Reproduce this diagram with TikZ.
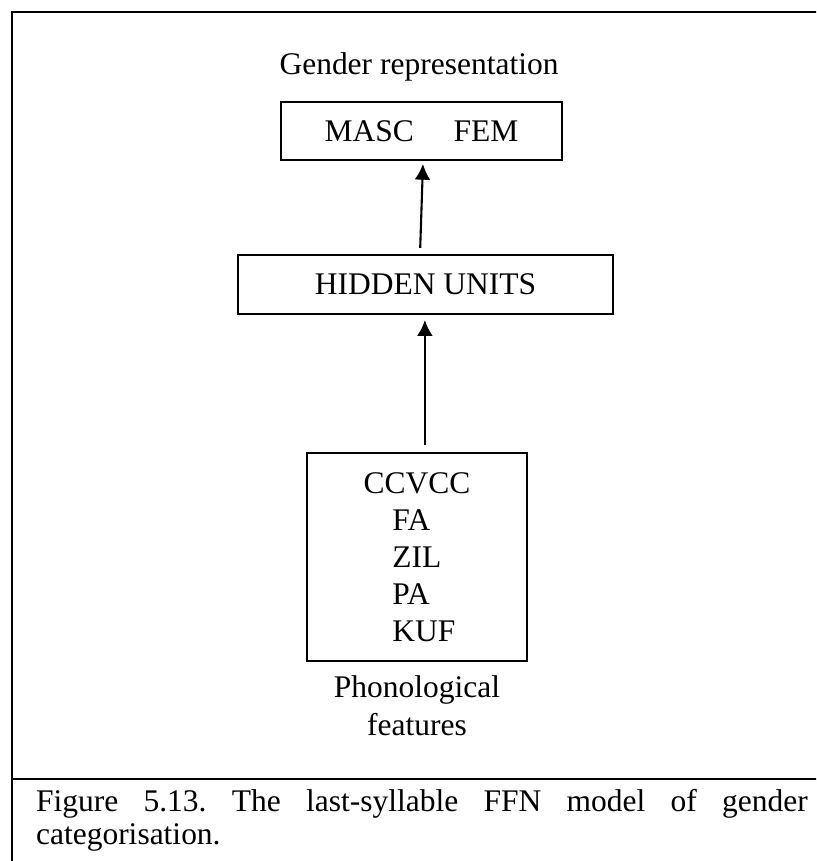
\documentclass[tikz,border=0pt]{standalone}
\usepackage{fontspec}
\setmainfont{Liberation Serif}
\usetikzlibrary{positioning,arrows.meta}
\tolerance=10000
\frenchspacing

\begin{document}
\begin{tikzpicture}[x=0.381pt, y=-0.381pt, line width=0.8pt,
		unitbox/.style={draw, inner sep=0pt, font=\fontsize{12}{14.1}\selectfont},
		plain/.style={inner sep=0pt, align=center, font=\fontsize{12}{14.5}\selectfont},
		arr/.style={-{Latex[length=6pt,width=6pt]}}]
			\useasboundingbox (0,0) rectangle (816,861);
			\clip (0,0) rectangle (816,861);
			\draw (12,900) -- (12,12) -- (840,12);
			\draw (12,779) -- (840,779);
			\node[plain, anchor=base] (gen) at (419,75) {Gender representation};
			\node[unitbox, minimum width=107pt, minimum height=22.1pt]
			(out) at (421.5,131) {MASC\hspace{15.2pt}FEM};
			\node[unitbox, minimum width=142.9pt, minimum height=22.5pt]
			(hid) at (425.5,284.5) {HIDDEN UNITS};
			\node[unitbox, minimum width=83.8pt, minimum height=79.2pt, align=left]
			(inp) at (417,557) {CCVCC\\ \hspace*{11pt}FA\\ \hspace*{11pt}ZIL\\ \hspace*{11pt}PA\\ \hspace*{11pt}KUF};
			\node[plain, below=4.8pt of inp] (phon) {Phonological\\features};
			\draw[arr, shorten <=2.3pt, shorten >=1.1pt] ([xshift=-2.1pt]hid.north) -- ([xshift=0.6pt]out.south);
			\draw[arr, shorten <=2.7pt, shorten >=1.9pt] ([xshift=3pt]inp.north) -- ([xshift=3pt]inp.north |- hid.south);
			\node[anchor=north west, inner sep=0pt, text width=294pt, align=justify,
			font=\fontsize{12}{12.5}\selectfont]
			(cap) at (35,788.5) {Figure 5.13. The \mbox{last-syllable} FFN model of gender \mbox{categorisation.}};
		\end{tikzpicture}
\end{document}
